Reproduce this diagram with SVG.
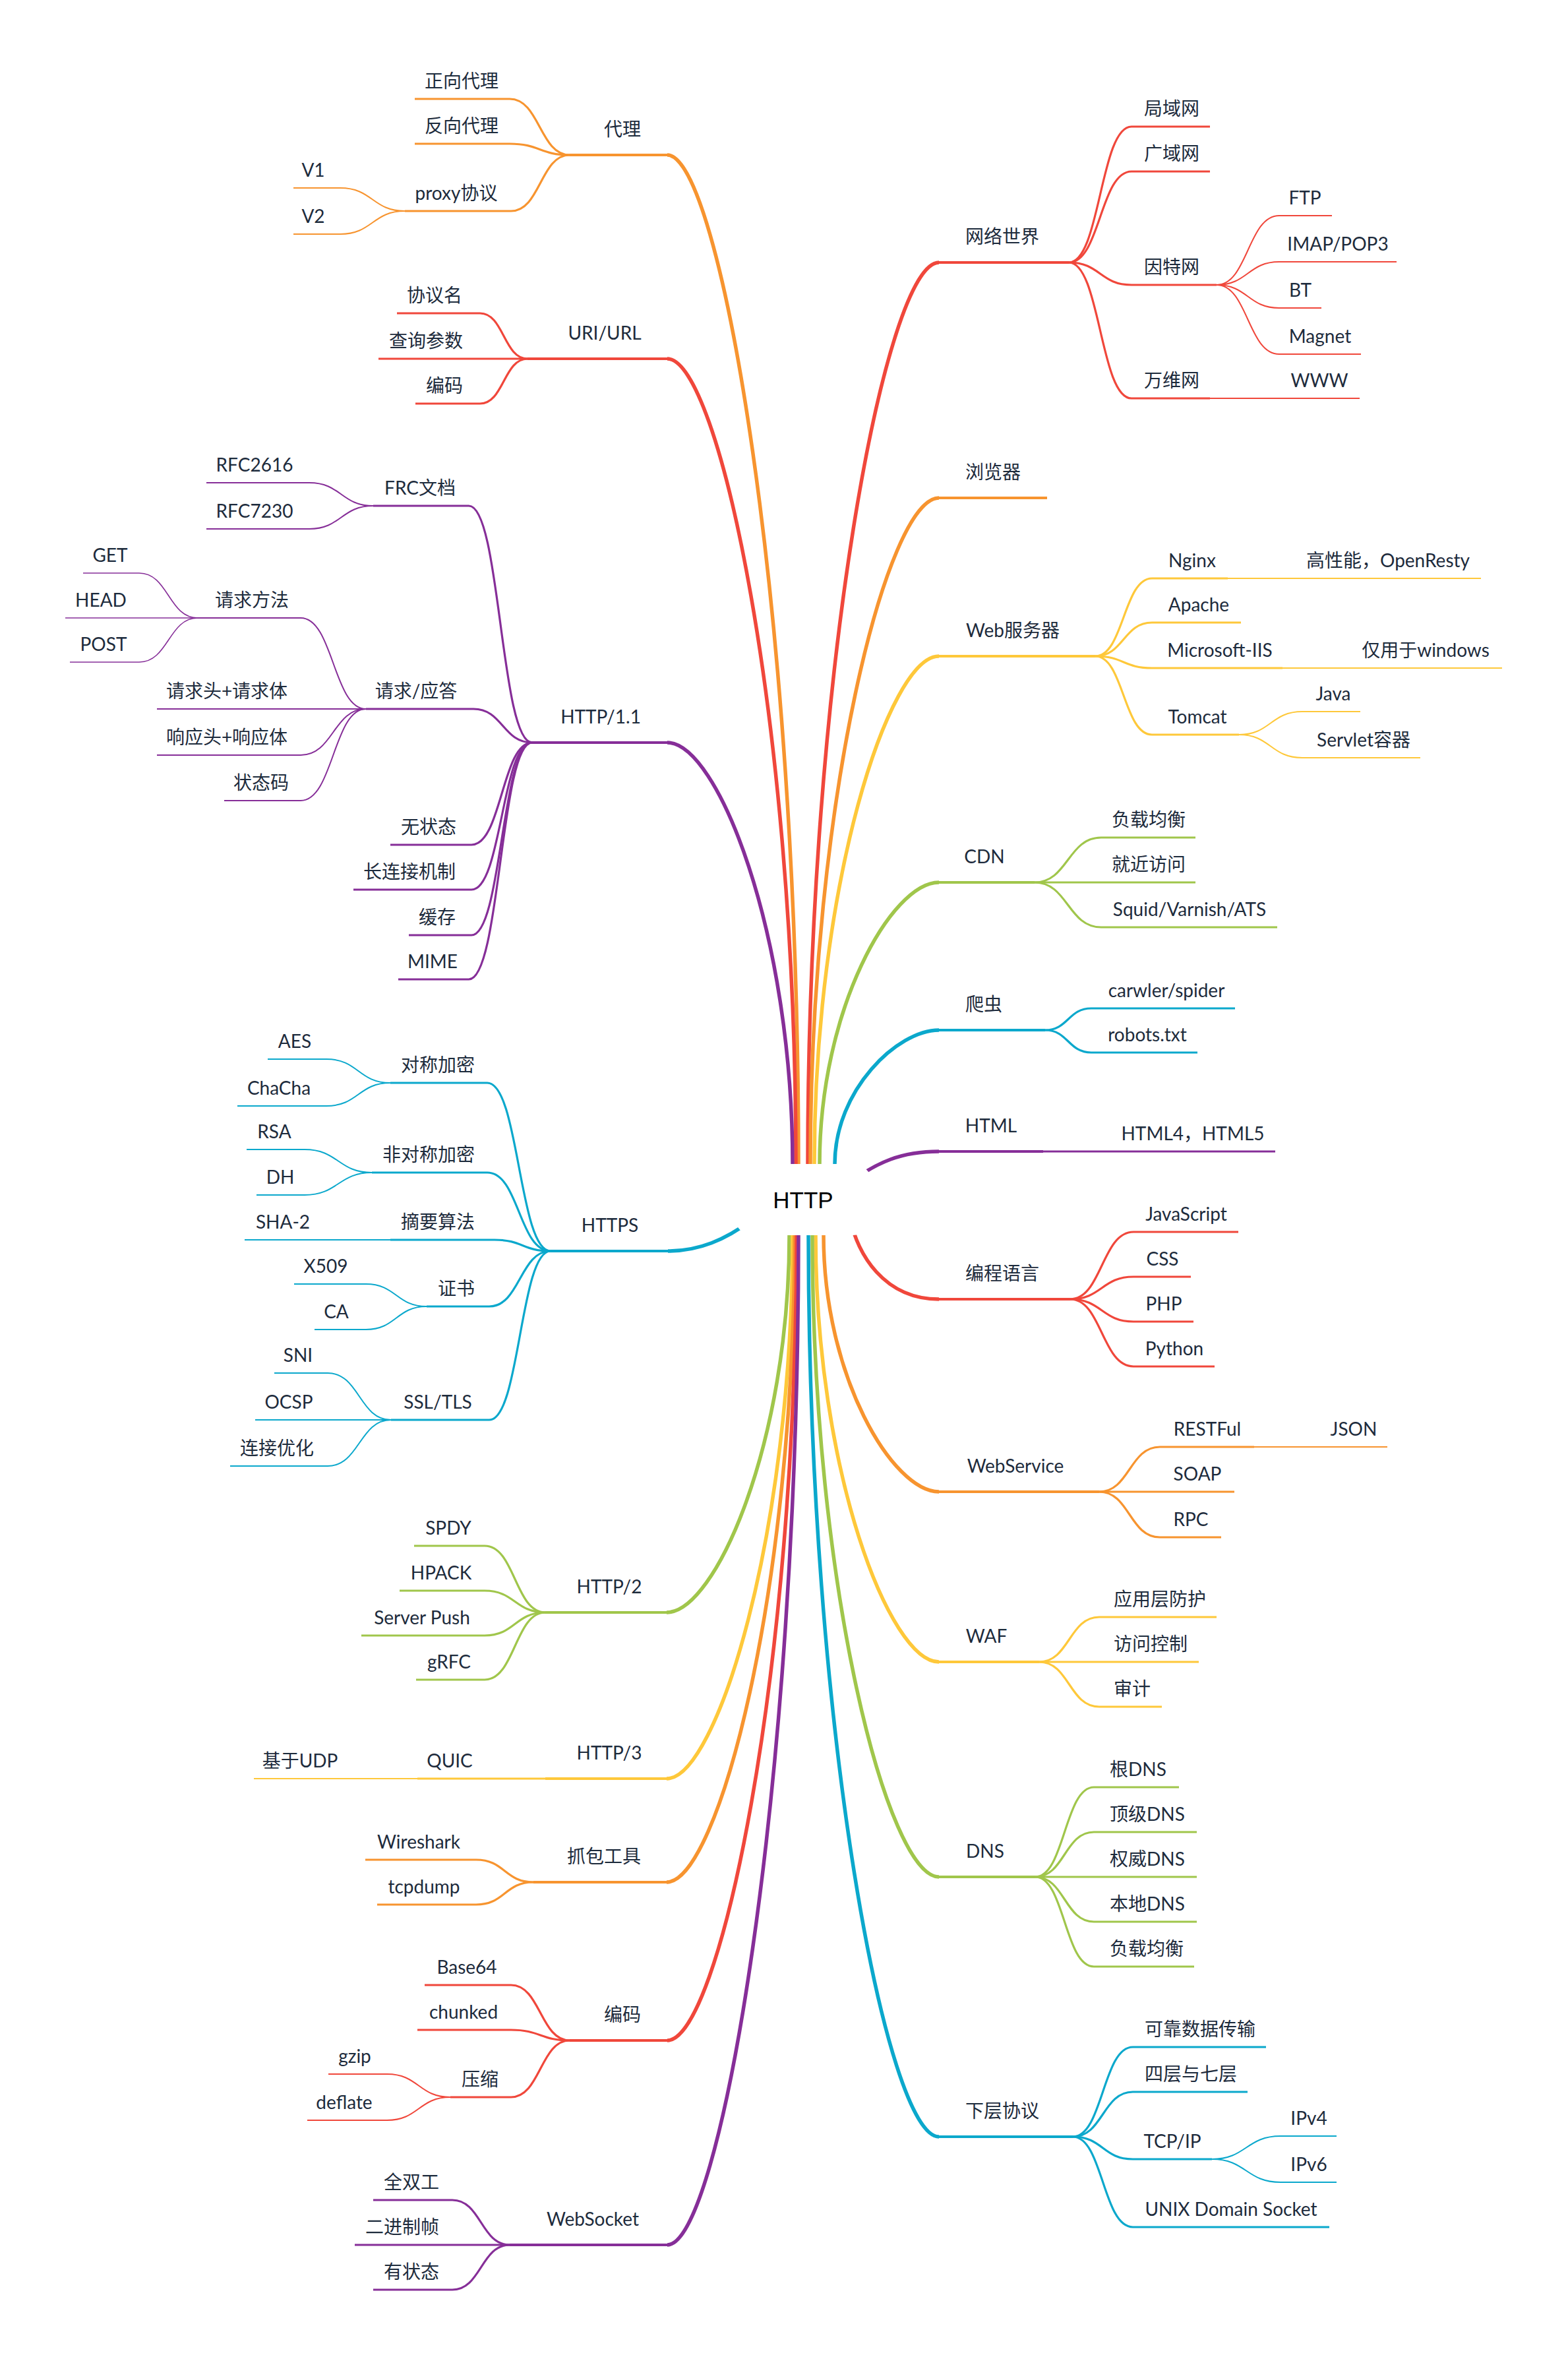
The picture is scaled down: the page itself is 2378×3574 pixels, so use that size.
<svg xmlns="http://www.w3.org/2000/svg" width="2378" height="3574" viewBox="0 0 2378 3574">
<style>
path{fill:none;stroke-linecap:butt;stroke-linejoin:round}
.o{stroke:#F7942F}.r{stroke:#F0473B}.y{stroke:#FEC83A}.g{stroke:#A0C64B}.c{stroke:#0BA8CC}.p{stroke:#862E98}
.w0{stroke-width:5.5}.w1{stroke-width:4}.w2{stroke-width:3.2}.w3{stroke-width:2}.w4{stroke-width:1.6}
.t{font-family:Lato,"Noto Sans CJK SC",sans-serif;font-size:28px;fill:#1D2B3C;text-anchor:middle}
.root{font-family:"Liberation Sans",Arial,sans-serif;font-size:35px;fill:#000;text-anchor:middle}
</style>
<rect width="2378" height="3574" fill="#fff"/>

<g id="connectors">
  <!-- trunks from the root -->
  <path class="o w0" d="M1211 1790V1765C1211 924 1092 235 1012 235"/>
  <path class="r w0" d="M1207 1790V1765C1207 1093 1090 544 1012 544"/>
  <path class="p w0" d="M1202 1790V1765C1202 1414 1088 1126 1012 1126"/>
  <path class="c w0" d="M1140 1850C1100 1880 1060 1897 1013 1897"/>
  <path class="g w0" d="M1197 1850V1873C1197 2188 1085 2445 1011 2445"/>
  <path class="y w0" d="M1202 1850V1873C1202 2326 1087 2697 1011 2697"/>
  <path class="o w0" d="M1205 1850V1873C1205 2413 1089 2854 1011 2854"/>
  <path class="r w0" d="M1208 1850V1873C1208 2545 1090 3094 1012 3094"/>
  <path class="p w0" d="M1211 1850V1873C1211 2715 1092 3404 1012 3404"/>
  <path class="r w0" d="M1225 1790V1765C1225 1013 1344 398 1424 398"/>
  <path class="o w0" d="M1229 1790V1765C1229 1210 1346 755 1424 755"/>
  <path class="y w0" d="M1235 1790V1765C1235 1342 1348 995 1424 995"/>
  <path class="g w0" d="M1243 1790V1765C1243 1530 1352 1338 1424 1338"/>
  <path class="c w0" d="M1266 1790V1765C1266 1653 1361 1562 1424 1562"/>
  <path class="p w0" d="M1280 1800C1330 1760 1370 1746 1424 1746"/>
  <path class="r w0" d="M1290 1850C1300 1900 1340 1970 1424 1970"/>
  <path class="o w0" d="M1249 1850V1873C1249 2087 1354 2262 1424 2262"/>
  <path class="y w0" d="M1237 1850V1873C1237 2229 1349 2520 1424 2520"/>
  <path class="g w0" d="M1232 1850V1873C1232 2408 1347 2846 1424 2846"/>
  <path class="c w0" d="M1226 1850V1873C1226 2625 1345 3240 1424 3240"/>

  <!-- 代理 -->
  <path class="o w2" d="M773 150C818.5 150 818.5 235 864 235"/>
  <path class="o w2" d="M773 218C818.5 218 818.5 235 864 235"/>
  <path class="o w2" d="M775 320C819.5 320 819.5 235 864 235"/>
  <path class="o w3" d="M516 285C565 285 565 320 614 320"/>
  <path class="o w3" d="M516 355C565 355 565 320 614 320"/>
  <!-- URI/URL -->
  <path class="r w2" d="M728 475C764 475 764 544 800 544"/>
  <path class="r w2" d="M728 612C764 612 764 544 800 544"/>
  <!-- HTTP/1.1 -->
  <path class="p w2" d="M711 767C759 767 759 1126 807 1126"/>
  <path class="p w2" d="M718 1075C762.5 1075 762.5 1126 807 1126"/>
  <path class="p w2" d="M715 1281C761 1281 761 1126 807 1126"/>
  <path class="p w2" d="M715 1349C761 1349 761 1126 807 1126"/>
  <path class="p w2" d="M715 1418C761 1418 761 1126 807 1126"/>
  <path class="p w2" d="M711 1485C759 1485 759 1126 807 1126"/>
  <path class="p w3" d="M469 732C517.5 732 517.5 767 566 767"/>
  <path class="p w3" d="M469 802C517.5 802 517.5 767 566 767"/>
  <path class="p w3" d="M456 937C505.5 937 505.5 1075 555 1075"/>
  <path class="p w3" d="M456 1145C505.5 1145 505.5 1075 555 1075"/>
  <path class="p w3" d="M456 1214C505.5 1214 505.5 1075 555 1075"/>
  <path class="p w4" d="M211 869C255.5 869 255.5 937 300 937"/>
  <path class="p w4" d="M211 1004C255.5 1004 255.5 937 300 937"/>
  <!-- HTTPS -->
  <path class="c w2" d="M739 1642C787 1642 787 1897 835 1897"/>
  <path class="c w2" d="M739 1778C787 1778 787 1897 835 1897"/>
  <path class="c w2" d="M750 1880C792.5 1880 792.5 1897 835 1897"/>
  <path class="c w2" d="M742 1981C788.5 1981 788.5 1897 835 1897"/>
  <path class="c w2" d="M742 2153C788.5 2153 788.5 1897 835 1897"/>
  <path class="c w3" d="M495 1606C543.5 1606 543.5 1642 592 1642"/>
  <path class="c w3" d="M495 1677C543.5 1677 543.5 1642 592 1642"/>
  <path class="c w3" d="M462 1743C513 1743 513 1778 564 1778"/>
  <path class="c w3" d="M462 1812C513 1812 513 1778 564 1778"/>
  <path class="c w3" d="M555 1947C601 1947 601 1981 647 1981"/>
  <path class="c w3" d="M555 2016C601 2016 601 1981 647 1981"/>
  <path class="c w3" d="M497 2082C545 2082 545 2153 593 2153"/>
  <path class="c w3" d="M497 2223C545 2223 545 2153 593 2153"/>
  <!-- HTTP/2 -->
  <path class="g w2" d="M735 2344C781 2344 781 2445 827 2445"/>
  <path class="g w2" d="M735 2412C781 2412 781 2445 827 2445"/>
  <path class="g w2" d="M735 2480C781 2480 781 2445 827 2445"/>
  <path class="g w2" d="M735 2547C781 2547 781 2445 827 2445"/>
  <!-- 抓包工具 -->
  <path class="o w2" d="M722 2820C765.5 2820 765.5 2854 809 2854"/>
  <path class="o w2" d="M722 2888C765.5 2888 765.5 2854 809 2854"/>
  <!-- 编码 -->
  <path class="r w2" d="M775 3010C819.5 3010 819.5 3094 864 3094"/>
  <path class="r w2" d="M775 3078C819.5 3078 819.5 3094 864 3094"/>
  <path class="r w2" d="M775 3180C819.5 3180 819.5 3094 864 3094"/>
  <path class="r w3" d="M587 3145C635 3145 635 3180 683 3180"/>
  <path class="r w3" d="M587 3215C635 3215 635 3180 683 3180"/>
  <!-- WebSocket -->
  <path class="p w2" d="M686 3336C729.5 3336 729.5 3404 773 3404"/>
  <path class="p w2" d="M686 3472C729.5 3472 729.5 3404 773 3404"/>

  <!-- 网络世界 -->
  <path class="r w2" d="M1621 398C1668.5 398 1668.5 192 1716 192"/>
  <path class="r w2" d="M1621 398C1668.5 398 1668.5 260 1716 260"/>
  <path class="r w2" d="M1621 398C1668.5 398 1668.5 432 1716 432"/>
  <path class="r w2" d="M1621 398C1668.5 398 1668.5 604 1716 604"/>
  <path class="r w3" d="M1845 432C1892.5 432 1892.5 327 1940 327"/>
  <path class="r w3" d="M1845 432C1892.5 432 1892.5 397 1940 397"/>
  <path class="r w3" d="M1845 432C1892.5 432 1892.5 467 1940 467"/>
  <path class="r w3" d="M1845 432C1892.5 432 1892.5 537 1940 537"/>
  <!-- Web服务器 -->
  <path class="y w2" d="M1661 995C1704 995 1704 877 1747 877"/>
  <path class="y w2" d="M1661 995C1704 995 1704 944 1747 944"/>
  <path class="y w2" d="M1661 995C1704 995 1704 1013 1747 1013"/>
  <path class="y w2" d="M1661 995C1704 995 1704 1114 1747 1114"/>
  <path class="y w3" d="M1879 1114C1927 1114 1927 1079 1975 1079"/>
  <path class="y w3" d="M1879 1114C1927 1114 1927 1149 1975 1149"/>
  <!-- CDN -->
  <path class="g w2" d="M1569 1338C1619.5 1338 1619.5 1270 1670 1270"/>
  <path class="g w2" d="M1569 1338C1619.5 1338 1619.5 1406 1670 1406"/>
  <!-- 爬虫 -->
  <path class="c w2" d="M1585 1562C1620 1562 1620 1529 1655 1529"/>
  <path class="c w2" d="M1585 1562C1620 1562 1620 1596 1655 1596"/>
  <!-- 编程语言 -->
  <path class="r w2" d="M1623 1970C1671 1970 1671 1868 1719 1868"/>
  <path class="r w2" d="M1623 1970C1671 1970 1671 1936 1719 1936"/>
  <path class="r w2" d="M1623 1970C1671 1970 1671 2004 1719 2004"/>
  <path class="r w2" d="M1623 1970C1671 1970 1671 2072 1719 2072"/>
  <!-- WebService -->
  <path class="o w2" d="M1667 2262C1713 2262 1713 2194 1759 2194"/>
  <path class="o w2" d="M1667 2262C1713 2262 1713 2331 1759 2331"/>
  <!-- WAF -->
  <path class="y w2" d="M1576 2520C1621.5 2520 1621.5 2452 1667 2452"/>
  <path class="y w2" d="M1576 2520C1621.5 2520 1621.5 2588 1667 2588"/>
  <!-- DNS -->
  <path class="g w2" d="M1570 2846C1614.5 2846 1614.5 2710 1659 2710"/>
  <path class="g w2" d="M1570 2846C1614.5 2846 1614.5 2778 1659 2778"/>
  <path class="g w2" d="M1570 2846C1614.5 2846 1614.5 2914 1659 2914"/>
  <path class="g w2" d="M1570 2846C1614.5 2846 1614.5 2982 1659 2982"/>
  <!-- 下层协议 -->
  <path class="c w2" d="M1627 3240C1672.5 3240 1672.5 3104 1718 3104"/>
  <path class="c w2" d="M1627 3240C1672.5 3240 1672.5 3172 1718 3172"/>
  <path class="c w2" d="M1627 3240C1672.5 3240 1672.5 3274 1718 3274"/>
  <path class="c w2" d="M1627 3240C1672.5 3240 1672.5 3377 1718 3377"/>
  <path class="c w3" d="M1838 3274C1890 3274 1890 3239 1942 3239"/>
  <path class="c w3" d="M1838 3274C1890 3274 1890 3309 1942 3309"/>
</g>

<g id="n-root"><rect x="1113" y="1765" width="210" height="108" rx="30" fill="#fff"/><text class="root" x="1218" y="1832">HTTP</text></g>

<!-- left: 代理 -->
<g id="n-proxy"><path class="o w1" d="M864 235H1012"/><text class="t" x="944" y="206">代理</text></g>
<g id="n-forward-proxy"><path class="o w2" d="M629 150H773"/><text class="t" x="700" y="133">正向代理</text></g>
<g id="n-reverse-proxy"><path class="o w2" d="M629 218H773"/><text class="t" x="700" y="201">反向代理</text></g>
<g id="n-proxy-protocol"><path class="o w2" d="M614 320H775"/><text class="t" x="692" y="303">proxy协议</text></g>
<g id="n-v1"><path class="o w3" d="M445 285H516"/><text class="t" x="475" y="268">V1</text></g>
<g id="n-v2"><path class="o w3" d="M445 355H516"/><text class="t" x="475" y="338">V2</text></g>

<!-- left: URI/URL -->
<g id="n-uri"><path class="r w1" d="M800 544H1012"/><text class="t" x="917" y="515">URI/URL</text></g>
<g id="n-scheme"><path class="r w2" d="M602 475H728"/><text class="t" x="659" y="458">协议名</text></g>
<g id="n-query"><path class="r w2" d="M574 544H800"/><text class="t" x="646" y="527">查询参数</text></g>
<g id="n-uri-encoding"><path class="r w2" d="M630 612H728"/><text class="t" x="674" y="595">编码</text></g>

<!-- left: HTTP/1.1 -->
<g id="n-http11"><path class="p w1" d="M807 1126H1012"/><text class="t" x="911" y="1097">HTTP/1.1</text></g>
<g id="n-rfc"><path class="p w2" d="M566 767H711"/><text class="t" x="637" y="750">FRC文档</text></g>
<g id="n-rfc2616"><path class="p w3" d="M313 732H469"/><text class="t" x="386" y="715">RFC2616</text></g>
<g id="n-rfc7230"><path class="p w3" d="M313 802H469"/><text class="t" x="386" y="785">RFC7230</text></g>
<g id="n-reqres"><path class="p w2" d="M555 1075H718"/><text class="t" x="631" y="1058">请求/应答</text></g>
<g id="n-methods"><path class="p w3" d="M300 937H456"/><text class="t" x="382" y="920">请求方法</text></g>
<g id="n-get"><path class="p w4" d="M126 869H211"/><text class="t" x="167" y="852">GET</text></g>
<g id="n-head"><path class="p w4" d="M99 937H300"/><text class="t" x="153" y="920">HEAD</text></g>
<g id="n-post"><path class="p w4" d="M106 1004H211"/><text class="t" x="157" y="987">POST</text></g>
<g id="n-req-msg"><path class="p w3" d="M238 1075H555"/><text class="t" x="344" y="1058">请求头+请求体</text></g>
<g id="n-res-msg"><path class="p w3" d="M238 1145H456"/><text class="t" x="344" y="1128">响应头+响应体</text></g>
<g id="n-status"><path class="p w3" d="M340 1214H456"/><text class="t" x="396" y="1197">状态码</text></g>
<g id="n-stateless"><path class="p w2" d="M592 1281H715"/><text class="t" x="650" y="1264">无状态</text></g>
<g id="n-keepalive"><path class="p w2" d="M536 1349H715"/><text class="t" x="621" y="1332">长连接机制</text></g>
<g id="n-cache"><path class="p w2" d="M620 1418H715"/><text class="t" x="663" y="1401">缓存</text></g>
<g id="n-mime"><path class="p w2" d="M604 1485H711"/><text class="t" x="656" y="1468">MIME</text></g>

<!-- left: HTTPS -->
<g id="n-https"><path class="c w1" d="M835 1897H1013"/><text class="t" x="925" y="1868">HTTPS</text></g>
<g id="n-symmetric"><path class="c w2" d="M592 1642H739"/><text class="t" x="664" y="1625">对称加密</text></g>
<g id="n-aes"><path class="c w3" d="M406 1606H495"/><text class="t" x="447" y="1589">AES</text></g>
<g id="n-chacha"><path class="c w3" d="M360 1677H495"/><text class="t" x="423" y="1660">ChaCha</text></g>
<g id="n-asymmetric"><path class="c w2" d="M564 1778H739"/><text class="t" x="650" y="1761">非对称加密</text></g>
<g id="n-rsa"><path class="c w3" d="M374 1743H462"/><text class="t" x="416" y="1726">RSA</text></g>
<g id="n-dh"><path class="c w3" d="M389 1812H462"/><text class="t" x="425" y="1795">DH</text></g>
<g id="n-digest"><path class="c w2" d="M592 1880H750"/><text class="t" x="664" y="1863">摘要算法</text></g>
<g id="n-sha2"><path class="c w3" d="M371 1880H592"/><text class="t" x="429" y="1863">SHA-2</text></g>
<g id="n-cert"><path class="c w2" d="M647 1981H742"/><text class="t" x="692" y="1964">证书</text></g>
<g id="n-x509"><path class="c w3" d="M446 1947H555"/><text class="t" x="494" y="1930">X509</text></g>
<g id="n-ca"><path class="c w3" d="M477 2016H555"/><text class="t" x="510" y="1999">CA</text></g>
<g id="n-tls"><path class="c w2" d="M593 2153H742"/><text class="t" x="664" y="2136">SSL/TLS</text></g>
<g id="n-sni"><path class="c w3" d="M416 2082H497"/><text class="t" x="452" y="2065">SNI</text></g>
<g id="n-ocsp"><path class="c w3" d="M387 2153H593"/><text class="t" x="438" y="2136">OCSP</text></g>
<g id="n-conn-opt"><path class="c w3" d="M349 2223H497"/><text class="t" x="420" y="2206">连接优化</text></g>

<!-- left: HTTP/2, HTTP/3 -->
<g id="n-http2"><path class="g w1" d="M827 2445H1011"/><text class="t" x="924" y="2416">HTTP/2</text></g>
<g id="n-spdy"><path class="g w2" d="M628 2344H735"/><text class="t" x="680" y="2327">SPDY</text></g>
<g id="n-hpack"><path class="g w2" d="M606 2412H735"/><text class="t" x="669" y="2395">HPACK</text></g>
<g id="n-push"><path class="g w2" d="M548 2480H735"/><text class="t" x="640" y="2463">Server Push</text></g>
<g id="n-grfc"><path class="g w2" d="M631 2547H735"/><text class="t" x="681" y="2530">gRFC</text></g>
<g id="n-http3"><path class="y w1" d="M827 2697H1011"/><text class="t" x="924" y="2668">HTTP/3</text></g>
<g id="n-quic"><path class="y w2" d="M633 2697H827"/><text class="t" x="682" y="2680">QUIC</text></g>
<g id="n-udp"><path class="y w3" d="M385 2697H633"/><text class="t" x="455" y="2680">基于UDP</text></g>

<!-- left: 抓包工具, 编码, WebSocket -->
<g id="n-capture"><path class="o w1" d="M809 2854H1011"/><text class="t" x="916" y="2825">抓包工具</text></g>
<g id="n-wireshark"><path class="o w2" d="M554 2820H722"/><text class="t" x="635" y="2803">Wireshark</text></g>
<g id="n-tcpdump"><path class="o w2" d="M572 2888H722"/><text class="t" x="643" y="2871">tcpdump</text></g>
<g id="n-encoding"><path class="r w1" d="M864 3094H1012"/><text class="t" x="944" y="3065">编码</text></g>
<g id="n-base64"><path class="r w2" d="M644 3010H775"/><text class="t" x="708" y="2993">Base64</text></g>
<g id="n-chunked"><path class="r w2" d="M633 3078H775"/><text class="t" x="703" y="3061">chunked</text></g>
<g id="n-compress"><path class="r w2" d="M683 3180H775"/><text class="t" x="728" y="3163">压缩</text></g>
<g id="n-gzip"><path class="r w3" d="M498 3145H587"/><text class="t" x="538" y="3128">gzip</text></g>
<g id="n-deflate"><path class="r w3" d="M466 3215H587"/><text class="t" x="522" y="3198">deflate</text></g>
<g id="n-websocket"><path class="p w1" d="M773 3404H1012"/><text class="t" x="899" y="3375">WebSocket</text></g>
<g id="n-duplex"><path class="p w2" d="M566 3336H686"/><text class="t" x="624" y="3319">全双工</text></g>
<g id="n-frame"><path class="p w2" d="M538 3404H773"/><text class="t" x="610" y="3387">二进制帧</text></g>
<g id="n-stateful"><path class="p w2" d="M566 3472H686"/><text class="t" x="624" y="3455">有状态</text></g>

<!-- right: 网络世界, 浏览器 -->
<g id="n-network"><path class="r w1" d="M1424 398H1621"/><text class="t" x="1520" y="369">网络世界</text></g>
<g id="n-lan"><path class="r w2" d="M1716 192H1835"/><text class="t" x="1777" y="175">局域网</text></g>
<g id="n-wan"><path class="r w2" d="M1716 260H1835"/><text class="t" x="1777" y="243">广域网</text></g>
<g id="n-internet"><path class="r w2" d="M1716 432H1845"/><text class="t" x="1777" y="415">因特网</text></g>
<g id="n-ftp"><path class="r w3" d="M1940 327H2020"/><text class="t" x="1979" y="310">FTP</text></g>
<g id="n-imap"><path class="r w3" d="M1940 397H2118"/><text class="t" x="2029" y="380">IMAP/POP3</text></g>
<g id="n-bt"><path class="r w3" d="M1940 467H2004"/><text class="t" x="1972" y="450">BT</text></g>
<g id="n-magnet"><path class="r w3" d="M1940 537H2064"/><text class="t" x="2002" y="520">Magnet</text></g>
<g id="n-web"><path class="r w2" d="M1716 604H1835"/><text class="t" x="1777" y="587">万维网</text></g>
<g id="n-www"><path class="r w3" d="M1835 604H2062"/><text class="t" x="2001" y="587">WWW</text></g>
<g id="n-browser"><path class="o w1" d="M1424 755H1588"/><text class="t" x="1506" y="726">浏览器</text></g>

<!-- right: Web服务器, CDN -->
<g id="n-webserver"><path class="y w1" d="M1424 995H1661"/><text class="t" x="1536" y="966">Web服务器</text></g>
<g id="n-nginx"><path class="y w2" d="M1747 877H1862"/><text class="t" x="1808" y="860">Nginx</text></g>
<g id="n-openresty"><path class="y w3" d="M1862 877H2246"/><text class="t" x="2105" y="860">高性能，OpenResty</text></g>
<g id="n-apache"><path class="y w2" d="M1747 944H1882"/><text class="t" x="1818" y="927">Apache</text></g>
<g id="n-iis"><path class="y w2" d="M1747 1013H1945"/><text class="t" x="1850" y="996">Microsoft-IIS</text></g>
<g id="n-windows"><path class="y w3" d="M1945 1013H2278"/><text class="t" x="2162" y="996">仅用于windows</text></g>
<g id="n-tomcat"><path class="y w2" d="M1747 1114H1879"/><text class="t" x="1816" y="1097">Tomcat</text></g>
<g id="n-java"><path class="y w3" d="M1975 1079H2063"/><text class="t" x="2022" y="1062">Java</text></g>
<g id="n-servlet"><path class="y w3" d="M1975 1149H2154"/><text class="t" x="2068" y="1132">Servlet容器</text></g>
<g id="n-cdn"><path class="g w1" d="M1424 1338H1569"/><text class="t" x="1493" y="1309">CDN</text></g>
<g id="n-cdn-lb"><path class="g w2" d="M1670 1270H1813"/><text class="t" x="1742" y="1253">负载均衡</text></g>
<g id="n-nearby"><path class="g w2" d="M1569 1338H1813"/><text class="t" x="1742" y="1321">就近访问</text></g>
<g id="n-squid"><path class="g w2" d="M1670 1406H1937"/><text class="t" x="1804" y="1389">Squid/Varnish/ATS</text></g>

<!-- right: 爬虫, HTML, 编程语言 -->
<g id="n-crawler"><path class="c w1" d="M1424 1562H1585"/><text class="t" x="1492" y="1533">爬虫</text></g>
<g id="n-spider"><path class="c w2" d="M1655 1529H1873"/><text class="t" x="1769" y="1512">carwler/spider</text></g>
<g id="n-robots"><path class="c w2" d="M1655 1596H1816"/><text class="t" x="1740" y="1579">robots.txt</text></g>
<g id="n-html"><path class="p w1" d="M1424 1746H1582"/><text class="t" x="1503" y="1717">HTML</text></g>
<g id="n-html-ver"><path class="p w2" d="M1582 1746H1934"/><text class="t" x="1809" y="1729">HTML4，HTML5</text></g>
<g id="n-lang"><path class="r w1" d="M1424 1970H1623"/><text class="t" x="1520" y="1941">编程语言</text></g>
<g id="n-js"><path class="r w2" d="M1719 1868H1878"/><text class="t" x="1799" y="1851">JavaScript</text></g>
<g id="n-css"><path class="r w2" d="M1719 1936H1806"/><text class="t" x="1763" y="1919">CSS</text></g>
<g id="n-php"><path class="r w2" d="M1719 2004H1810"/><text class="t" x="1765" y="1987">PHP</text></g>
<g id="n-python"><path class="r w2" d="M1719 2072H1842"/><text class="t" x="1781" y="2055">Python</text></g>

<!-- right: WebService, WAF, DNS, 下层协议 -->
<g id="n-webservice"><path class="o w1" d="M1424 2262H1667"/><text class="t" x="1540" y="2233">WebService</text></g>
<g id="n-restful"><path class="o w2" d="M1759 2194H1902"/><text class="t" x="1831" y="2177">RESTFul</text></g>
<g id="n-json"><path class="o w3" d="M1902 2194H2104"/><text class="t" x="2053" y="2177">JSON</text></g>
<g id="n-soap"><path class="o w2" d="M1667 2262H1872"/><text class="t" x="1816" y="2245">SOAP</text></g>
<g id="n-rpc"><path class="o w2" d="M1759 2331H1852"/><text class="t" x="1806" y="2314">RPC</text></g>
<g id="n-waf"><path class="y w1" d="M1424 2520H1576"/><text class="t" x="1496" y="2491">WAF</text></g>
<g id="n-app-guard"><path class="y w2" d="M1667 2452H1845"/><text class="t" x="1759" y="2435">应用层防护</text></g>
<g id="n-access"><path class="y w2" d="M1576 2520H1818"/><text class="t" x="1745" y="2503">访问控制</text></g>
<g id="n-audit"><path class="y w2" d="M1667 2588H1762"/><text class="t" x="1717" y="2571">审计</text></g>
<g id="n-dns"><path class="g w1" d="M1424 2846H1570"/><text class="t" x="1494" y="2817">DNS</text></g>
<g id="n-root-dns"><path class="g w2" d="M1659 2710H1788"/><text class="t" x="1726" y="2693">根DNS</text></g>
<g id="n-tld"><path class="g w2" d="M1659 2778H1815"/><text class="t" x="1740" y="2761">顶级DNS</text></g>
<g id="n-auth-dns"><path class="g w2" d="M1570 2846H1815"/><text class="t" x="1740" y="2829">权威DNS</text></g>
<g id="n-local-dns"><path class="g w2" d="M1659 2914H1815"/><text class="t" x="1740" y="2897">本地DNS</text></g>
<g id="n-dns-lb"><path class="g w2" d="M1659 2982H1811"/><text class="t" x="1739" y="2965">负载均衡</text></g>
<g id="n-lower"><path class="c w1" d="M1424 3240H1627"/><text class="t" x="1520" y="3211">下层协议</text></g>
<g id="n-reliable"><path class="c w2" d="M1718 3104H1920"/><text class="t" x="1820" y="3087">可靠数据传输</text></g>
<g id="n-layers"><path class="c w2" d="M1718 3172H1892"/><text class="t" x="1806" y="3155">四层与七层</text></g>
<g id="n-tcpip"><path class="c w2" d="M1718 3274H1838"/><text class="t" x="1778" y="3257">TCP/IP</text></g>
<g id="n-ipv4"><path class="c w3" d="M1942 3239H2027"/><text class="t" x="1985" y="3222">IPv4</text></g>
<g id="n-ipv6"><path class="c w3" d="M1942 3309H2027"/><text class="t" x="1985" y="3292">IPv6</text></g>
<g id="n-unix"><path class="c w2" d="M1718 3377H2016"/><text class="t" x="1867" y="3360">UNIX Domain Socket</text></g>
</svg>
